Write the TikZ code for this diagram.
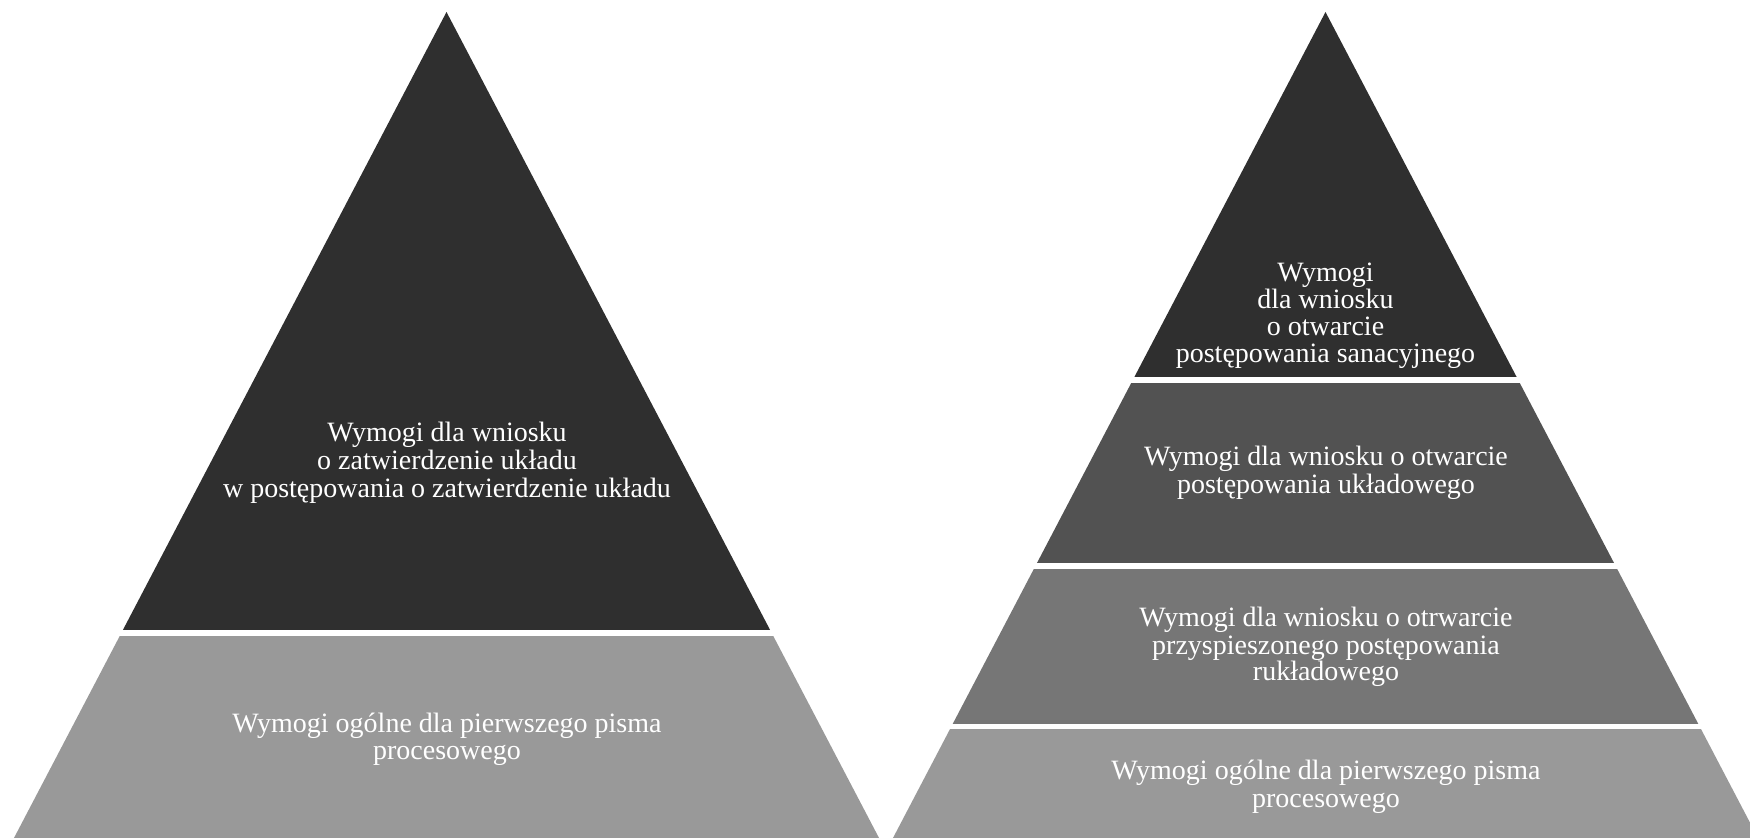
\documentclass[tikz,border=0pt]{standalone}
\usepackage{fontspec}
\setmainfont{Liberation Serif}
\newfontfamily\tnrfont{Liberation Serif}
\definecolor{cA}{HTML}{2F2F2F}
\definecolor{cB}{HTML}{525252}
\definecolor{cC}{HTML}{767676}
\definecolor{cD}{HTML}{999999}
\begin{document}
\begin{tikzpicture}[x=0.5pt,y=-0.5pt,
  lbl/.style={text=white, align=center, inner sep=0pt, font=\tnrfont\fontsize{14}{13.8}\selectfont}]
\useasboundingbox (0,0) rectangle (1750,838);
\clip (0,0) rectangle (1750,838);
% left pyramid
\begin{scope}
\clip (446.5,12) -- (911.5,900) -- (-18.5,900) -- cycle;
\fill[cA] (-50,0) rectangle (950,630);
\fill[cD] (-50,636) rectangle (950,900);
\end{scope}
% right pyramid
\begin{scope}
\clip (1325.5,12) -- (1790.5,900) -- (860.5,900) -- cycle;
\fill[cA] (800,0) rectangle (1850,377);
\fill[cB] (800,383) rectangle (1850,563);
\fill[cC] (800,569) rectangle (1850,724);
\fill[cD] (800,729) rectangle (1850,900);
\end{scope}
\node[lbl] (t1) at (447,462.7) {Wymogi dla wniosku\\o zatwierdzenie układu\\w postępowania o zatwierdzenie układu};
\node[lbl] (t2) at (447,739.3) {Wymogi ogólne dla pierwszego pisma\\procesowego};
\node[lbl, font=\tnrfont\fontsize{14}{13.5}\selectfont] (r1) at (1325.5,315.3) {Wymogi\\dla wniosku\\o otwarcie\\postępowania sanacyjnego};
\node[lbl] (r2) at (1326,473) {Wymogi dla wniosku o otwarcie\\postępowania układowego};
\node[lbl] (r3) at (1326,646.9) {Wymogi dla wniosku o otrwarcie\\przyspieszonego postępowania\\[-1pt]rukładowego};
\node[lbl] (r4) at (1326,786.5) {Wymogi ogólne dla pierwszego pisma\\procesowego};
\end{tikzpicture}
\end{document}
